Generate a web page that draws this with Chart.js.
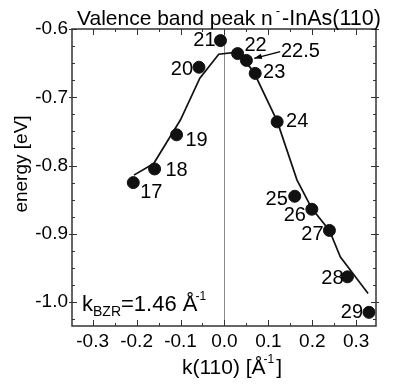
<!DOCTYPE html>
<html><head><meta charset="utf-8">
<script src="https://cdn.jsdelivr.net/npm/chart.js@4/dist/chart.umd.min.js"></script>
<style>html,body{margin:0;padding:0;background:#fff}#wrap{width:394px;height:384px;position:relative}</style>
</head><body><div id="wrap"><canvas id="c"></canvas></div>
<script>
// ---- data ----
const pointLabels = ['17','18','19','20','21','22','22.5','23','24','25','26','27','28','29'];
const pointK = [-0.2075,-0.159,-0.109,-0.058,-0.009,0.030,0.050,0.070,0.120,0.160,0.199,0.239,0.280,0.329];
const pointE = [-0.825,-0.805,-0.755,-0.656,-0.617,-0.636,-0.646,-0.665,-0.736,-0.845,-0.864,-0.895,-0.963,-1.015];
const fitK = [-0.206,-0.161,-0.100,-0.056,-0.013,0.029,0.066,0.120,0.165,0.199,0.239,0.264,0.327];
const fitE = [-0.814,-0.797,-0.733,-0.672,-0.637,-0.634,-0.662,-0.735,-0.821,-0.863,-0.895,-0.934,-0.9875];
const xTicks = [-0.3,-0.2,-0.1,0.0,0.1,0.2,0.3];
const yTicks = [-0.6,-0.7,-0.8,-0.9,-1.0];
const xRange = [-0.347, 0.345];
const yRange = [-1.035, -0.6];
const arrowFrom = [0.127, -0.633];
const arrowTo = [0.068, -0.643];

// ---- style / layout (not data) ----
const FONT = '"Liberation Sans", Arial, sans-serif';
const labelOffsets = [[18,10],[22,2],[20,6],[-17,2],[-16,0],[18,-8],[54,-9],[19,-1],[20,0],[-18,3],[-17,6],[-17,4],[-15,2],[-17,0]];

function rich(ctx, x, y, segs, align) {
  let w = 0;
  segs.forEach(s => { ctx.font = s.s + 'px ' + FONT; s.w = ctx.measureText(s.t).width + (s.gap||0); w += s.w; });
  let cx = align === 'center' ? x - w/2 : x;
  ctx.textAlign = 'left'; ctx.textBaseline = 'alphabetic';
  segs.forEach(s => { ctx.font = s.s + 'px ' + FONT; ctx.fillText(s.t, cx + (s.pre||0), y + (s.dy||0)); cx += s.w; });
}

const deco = {
  id: 'deco',
  beforeDatasetsDraw(chart) {
    const {ctx, chartArea: a, scales: {x}} = chart;
    ctx.save();
    ctx.strokeStyle = '#8a8a8a'; ctx.lineWidth = 1;
    const x0 = Math.round(x.getPixelForValue(0)) + 0.5;
    ctx.beginPath(); ctx.moveTo(x0, a.top); ctx.lineTo(x0, a.bottom); ctx.stroke();
    ctx.restore();
  },
  afterDraw(chart) {
    const {ctx, chartArea: a, scales: {x, y}} = chart;
    ctx.save();
    // frame
    ctx.strokeStyle = '#333'; ctx.lineWidth = 1.5;
    ctx.strokeRect(a.left, a.top, a.right - a.left, a.bottom - a.top);
    // ticks
    ctx.lineWidth = 1;
    ctx.beginPath();
    for (let i = Math.ceil(x.min/0.05 - 1e-6); i*0.05 <= x.max + 1e-9; i++) {
      const v = i*0.05, px = Math.round(x.getPixelForValue(v)) + 0.5;
      const major = i % 2 === 0, L = major ? 6 : 3;
      ctx.moveTo(px, a.bottom); ctx.lineTo(px, a.bottom - L);
      ctx.moveTo(px, a.top); ctx.lineTo(px, a.top + L);
    }
    for (let i = Math.ceil(y.min/0.025 - 1e-6); i*0.025 <= y.max + 1e-9; i++) {
      const v = i*0.025, py = Math.round(y.getPixelForValue(v)) + 0.5;
      const major = i % 4 === 0, L = major ? 5 : 3;
      ctx.moveTo(a.left - (major ? 3 : 0), py); ctx.lineTo(a.left + L, py);
      ctx.moveTo(a.right + (major ? 3 : 0), py); ctx.lineTo(a.right - L, py);
    }
    ctx.stroke();
    // point labels
    ctx.fillStyle = '#000';
    ctx.font = '20px ' + FONT; ctx.textAlign = 'center'; ctx.textBaseline = 'middle';
    pointLabels.forEach((t, i) => {
      const px = x.getPixelForValue(pointK[i]), py = y.getPixelForValue(pointE[i]);
      ctx.fillText(t, px + labelOffsets[i][0], py + labelOffsets[i][1]);
    });
    // arrow
    const ax1 = x.getPixelForValue(arrowFrom[0]), ay1 = y.getPixelForValue(arrowFrom[1]);
    const ax2 = x.getPixelForValue(arrowTo[0]), ay2 = y.getPixelForValue(arrowTo[1]);
    ctx.strokeStyle = '#000'; ctx.lineWidth = 1.3;
    ctx.beginPath(); ctx.moveTo(ax1, ay1); ctx.lineTo(ax2, ay2); ctx.stroke();
    const ang = Math.atan2(ay2 - ay1, ax2 - ax1);
    ctx.beginPath();
    ctx.moveTo(ax2, ay2);
    ctx.lineTo(ax2 - 8*Math.cos(ang - 0.35), ay2 - 8*Math.sin(ang - 0.35));
    ctx.lineTo(ax2 - 8*Math.cos(ang + 0.35), ay2 - 8*Math.sin(ang + 0.35));
    ctx.closePath(); ctx.fill();
    // title
    rich(ctx, 77, 25, [{t:'Valence band peak n', s:21},{t:'-', s:13, dy:-10, pre:3, gap:5},{t:'-InAs(110)', s:21.5}], 'left');
    // kBZR annotation
    rich(ctx, 82, 311, [{t:'k', s:22},{t:'BZR', s:14, dy:5},{t:'=1.46 Å', s:22},{t:'-1', s:12, dy:-11, pre:-2}], 'left');
    // x title
    rich(ctx, 232, 374, [{t:'k(110) [Å', s:21},{t:'-1', s:12, dy:-11, pre:-2},{t:']', s:21}], 'center');
    // y title
    ctx.save();
    ctx.translate(27, 164); ctx.rotate(-Math.PI/2);
    ctx.font = '19px ' + FONT; ctx.textAlign = 'center'; ctx.textBaseline = 'alphabetic';
    ctx.fillText('energy [eV]', 0, 0);
    ctx.restore();
    ctx.restore();
  }
};

const ctx = document.getElementById('c');
new Chart(ctx, {
  type: 'scatter',
  data: {
    datasets: [
      { label: 'fit', data: fitK.map((k, i) => ({x: k, y: fitE[i]})), showLine: true,
        borderColor: '#111', borderWidth: 1.7, pointRadius: 0, fill: false, tension: 0 },
      { label: 'peaks', data: pointK.map((k, i) => ({x: k, y: pointE[i]})),
        backgroundColor: '#111', borderColor: '#111', pointRadius: 6, pointHoverRadius: 6 }
    ]
  },
  options: {
    responsive: true, maintainAspectRatio: false, animation: false, devicePixelRatio: 1,
    layout: { padding: { top: 29, right: 18, left: 0, bottom: 0 } },
    plugins: { legend: { display: false }, tooltip: { enabled: false }, title: { display: false } },
    scales: {
      x: {
        type: 'linear', min: xRange[0], max: xRange[1],
        grid: { display: false, drawTicks: false }, border: { display: false },
        afterBuildTicks: s => { s.ticks = xTicks.map(v => ({value: v})); },
        afterFit: s => { s.height = 58; },
        ticks: { color: '#000', font: { family: FONT, size: 19 }, padding: 4, maxRotation: 0, autoSkip: false,
          callback: v => Number(v).toFixed(1) }
      },
      y: {
        type: 'linear', min: yRange[0], max: yRange[1],
        grid: { display: false, drawTicks: false }, border: { display: false },
        afterBuildTicks: s => { s.ticks = yTicks.map(v => ({value: v})); },
        afterFit: s => { s.width = 72; },
        ticks: { color: '#000', font: { family: FONT, size: 19 }, padding: 4, autoSkip: false,
          callback: v => Number(v).toFixed(1) }
      }
    }
  },
  plugins: [deco]
});
</script></body></html>
